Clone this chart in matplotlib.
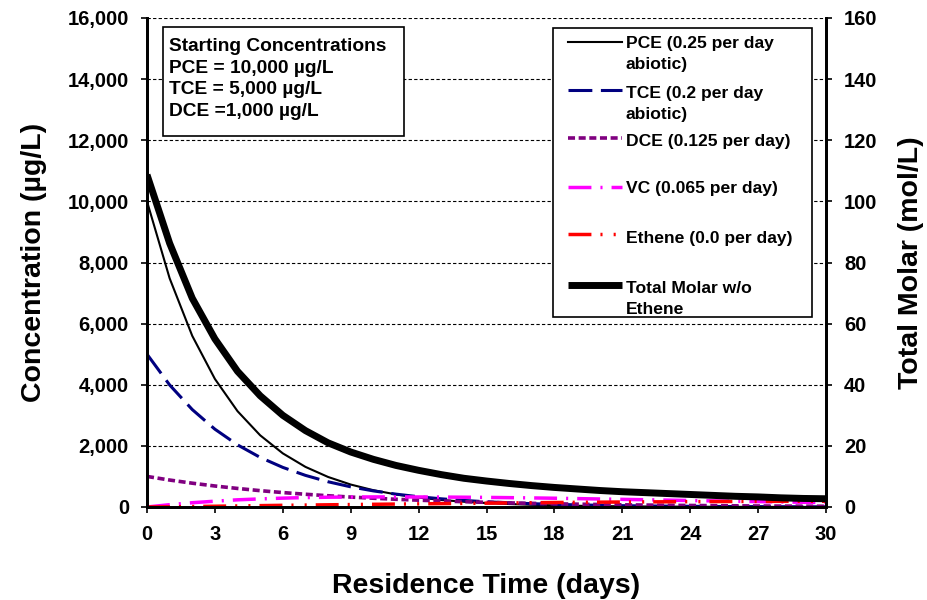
import matplotlib
matplotlib.use("Agg")
import matplotlib.pyplot as plt
from matplotlib.lines import Line2D
from matplotlib.patches import Rectangle

plt.rcParams['font.family'] = ['Liberation Sans', 'DejaVu Sans']
plt.rcParams['font.weight'] = 'bold'

days = list(range(31))
pce = [10000, 7483, 5599, 4190, 3135, 2346, 1755, 1313, 983, 735, 550, 412, 308, 230, 172,
       129, 97, 72, 54, 40, 30, 23, 17, 13, 10, 7, 5, 4, 3, 2, 2]
tce = [5000, 3993, 3188, 2546, 2033, 1623, 1296, 1035, 826, 660, 527, 421, 336, 268, 214,
       171, 137, 109, 87, 70, 56, 44, 35, 28, 23, 18, 14, 12, 9, 7, 6]
dce = [1000, 882, 779, 687, 607, 535, 472, 417, 368, 325, 287, 253, 223, 197, 174,
       153, 135, 119, 105, 93, 82, 72, 64, 56, 50, 44, 39, 33, 30, 27, 24]
vc = [0, 75, 140, 190, 235, 265, 290, 308, 320, 326, 330, 330, 328, 325, 320,
      314, 306, 297, 287, 275, 262, 250, 238, 225, 212, 200, 188, 177, 166, 155, 145]
ethene = [0, 5, 15, 25, 35, 45, 55, 63, 72, 80, 88, 96, 103, 111, 118,
          125, 132, 140, 147, 153, 158, 163, 167, 171, 175, 178, 181, 184, 186, 188, 190]
total_molar = [108.7, 86.3, 68.3, 55.0, 44.4, 36.4, 30.0, 25.0, 21.0, 18.0, 15.6, 13.6, 12.0, 10.6, 9.4,
               8.5, 7.7, 7.0, 6.4, 5.9, 5.4, 5.0, 4.7, 4.4, 4.1, 3.8, 3.5, 3.3, 3.0, 2.8, 2.7]

labels = ["PCE (0.25 per day\nabiotic)", "TCE (0.2 per day\nabiotic)", "DCE (0.125 per day)",
          "VC (0.065 per day)", "Ethene (0.0 per day)", "Total Molar w/o\nEthene"]
box_text = "Starting Concentrations\nPCE = 10,000 µg/L\nTCE = 5,000 µg/L\nDCE =1,000 µg/L"
x_ticks = list(range(0, 31, 3))
y_ticks = list(range(0, 16001, 2000))
y2_ticks = list(range(0, 161, 20))

W, H = 927, 600
L, R, T, B = 147, 826, 18, 507
fig = plt.figure(figsize=(W/100, H/100), dpi=100)
ax = fig.add_axes([L/W, 1-B/H, (R-L)/W, (B-T)/H])
ax2 = ax.twinx()

def fx(px):
    return (px - L) / (R - L)

def fy(py):
    return (B - py) / (B - T)

styles = [
    dict(color='black', lw=1.5, ls='-'),
    dict(color='#000080', lw=2.2, ls=(0, (7.8, 2.8))),
    dict(color='#800080', lw=2.6, ls=(0, (1.95, 1.0))),
    dict(color='#FF00FF', lw=2.5, ls=(0, (6.6, 2.6, 0.6, 2.6))),
    dict(color='#FF0000', lw=2.5, ls=(0, (6.6, 2.6, 0.6, 3.2, 0.6, 2.6))),
    dict(color='black', lw=5, ls='-', solid_capstyle='butt'),
]

ax.plot(days, pce, **styles[0])
ax.plot(days, tce, **styles[1])
ax.plot(days, dce, **styles[2])
ax.plot(days, vc, **styles[3])
ax.plot(days, ethene, **styles[4])
ax2.plot(days, total_molar, **styles[5])

ax.set_xlim(0, 30)
ax.set_ylim(0, 16000)
ax2.set_ylim(0, 160)
ax.set_xticks(x_ticks)
ax.set_yticks(y_ticks)
ax2.set_yticks(y2_ticks)
ax.set_yticklabels([f"{v:,}" for v in y_ticks])
ax.set_xticklabels([str(v) for v in x_ticks])
ax2.set_yticklabels([str(v) for v in y2_ticks])

ax.grid(axis='y', color='black', ls=(0, (3, 2)), lw=0.8)
ax.set_axisbelow(True)

for a in (ax, ax2):
    a.spines['top'].set_visible(False)
    for s in ('left', 'right', 'bottom'):
        a.spines[s].set_linewidth(2)
ax.tick_params(axis='y', direction='out', length=4, width=1.2, labelsize=14.5, pad=9)
ax.tick_params(axis='x', direction='out', length=4, width=1.2, labelsize=14.5, pad=9)
ax2.tick_params(axis='y', direction='out', length=4, width=1.2, labelsize=14.5, pad=9)
for t in ax.get_xticklabels() + ax.get_yticklabels() + ax2.get_yticklabels():
    t.set_fontweight('bold')

ax.set_xlabel("Residence Time (days)", fontsize=20.5, fontweight='bold', labelpad=21)
ax.set_ylabel("Concentration (µg/L)", fontsize=20.5, fontweight='bold', labelpad=15)
ax2.set_ylabel("Total Molar (mol/L)", fontsize=20.5, fontweight='bold', labelpad=15)

# starting-concentration box
ax2.add_patch(Rectangle((fx(163), fy(136)), fx(404) - fx(163), fy(27) - fy(136),
                        transform=ax2.transAxes, facecolor='white', edgecolor='black',
                        lw=1.2, zorder=5, clip_on=False))
ax2.text(fx(169), fy(38), box_text, transform=ax2.transAxes, ha='left', va='top',
         fontsize=13.8, fontweight='bold', linespacing=1.36, zorder=6)

# legend (drawn manually for exact placement)
ax2.add_patch(Rectangle((fx(553), fy(317)), fx(812) - fx(553), fy(28) - fy(317),
                        transform=ax2.transAxes, facecolor='white', edgecolor='black',
                        lw=1.2, zorder=5, clip_on=False))
handle_y = [42, 90, 138, 187, 234, 285]
text_y = [42, 92, 140, 187, 237, 287]
for st, lab, hy, ty in zip(styles, labels, handle_y, text_y):
    ln = Line2D([fx(568), fx(622)], [fy(hy), fy(hy)], transform=ax2.transAxes,
                zorder=6, clip_on=False, **st)
    ax2.add_line(ln)
    ax2.text(fx(626), fy(ty - 6), lab, transform=ax2.transAxes, ha='left', va='top',
             fontsize=12.6, fontweight='bold', linespacing=1.5, zorder=6)

fig.savefig("out.png", dpi=100)
